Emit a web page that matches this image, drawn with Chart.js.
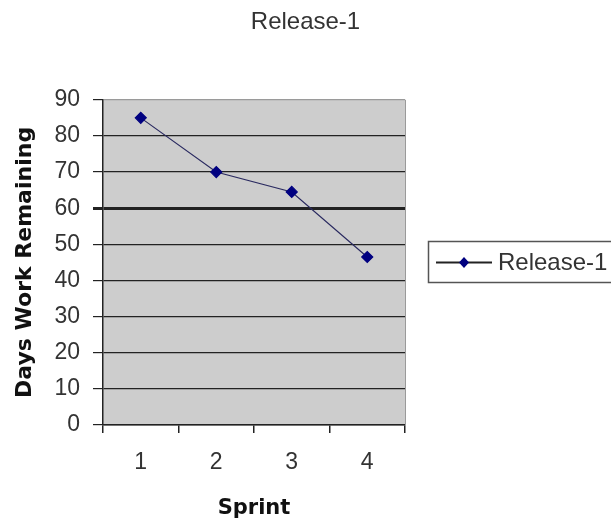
<!DOCTYPE html>
<html>
<head>
<meta charset="utf-8">
<script src="https://cdn.jsdelivr.net/npm/chart.js@4"></script>
<style>
  body { margin: 0; background: #fff; }
  #wrap { width: 611px; height: 523px; }
</style>
</head>
<body>
<div id="wrap"><canvas id="myChart" width="611" height="523"></canvas></div>
<script>
const sprints = ["1", "2", "3", "4"];
const release1 = [85, 70, 64.5, 46.5];
const seriesName = "Release-1";
const yMin = 0;
const yMax = 90;
const yStep = 10;
const targetLine = 60;

// grey plot area, like the old excel default
const plotBackground = {
  id: "plotBackground",
  beforeDraw(chart) {
    const { ctx, chartArea } = chart;
    ctx.save();
    ctx.fillStyle = "#cdcdcd";
    ctx.fillRect(chartArea.left, chartArea.top, chartArea.right - chartArea.left, chartArea.bottom - chartArea.top);
    ctx.restore();
  },
  afterDatasetsDraw(chart) {
    const { ctx, chartArea } = chart;
    ctx.save();
    ctx.strokeStyle = "#9a9a9a";
    ctx.lineWidth = 1;
    ctx.beginPath();
    ctx.moveTo(chartArea.right + 0.5, chartArea.top);
    ctx.lineTo(chartArea.right + 0.5, chartArea.bottom);
    ctx.stroke();
    ctx.restore();
  },
};

// boxed legend on the right, line + marker like excel
const boxLegend = {
  id: "boxLegend",
  afterDraw(chart) {
    const { ctx } = chart;
    const ds = chart.data.datasets[0];
    ctx.save();
    ctx.strokeStyle = "#555";
    ctx.lineWidth = 1.5;
    ctx.strokeRect(428.5, 241.5, 200, 41);
    ctx.strokeStyle = "#222";
    ctx.lineWidth = 2;
    ctx.beginPath();
    ctx.moveTo(436, 262.5);
    ctx.lineTo(492, 262.5);
    ctx.stroke();
    ctx.fillStyle = ds.pointBackgroundColor;
    ctx.beginPath();
    ctx.moveTo(464, 257);
    ctx.lineTo(469, 262.5);
    ctx.lineTo(464, 268);
    ctx.lineTo(459, 262.5);
    ctx.closePath();
    ctx.fill();
    ctx.fillStyle = "#333";
    ctx.font = "24px 'Liberation Sans', Arial, sans-serif";
    ctx.textBaseline = "middle";
    ctx.fillText(ds.label, 498, 263);
    ctx.restore();
  },
};

const ctx = document.getElementById("myChart").getContext("2d");

const myChart = new Chart(ctx, {
  type: "line",
  data: {
    labels: sprints,
    datasets: [
      {
        label: seriesName,
        data: release1,
        borderColor: "#2a2a60",
        borderWidth: 1.2,
        pointStyle: "rectRot",
        pointRadius: 5.5,
        pointBackgroundColor: "#000080",
        pointBorderColor: "#000080",
        tension: 0,
      },
    ],
  },
  options: {
    responsive: false,
    animation: false,
    layout: {
      padding: { left: 0, right: 0, top: 8, bottom: 0 },
    },
    plugins: {
      legend: { display: false },
      tooltip: { enabled: false },
      title: {
        display: true,
        text: seriesName,
        color: "#333",
        font: { family: "'Liberation Sans', Arial, sans-serif", size: 24, weight: "normal" },
        padding: { top: 0, bottom: 63 },
      },
    },
    scales: {
      x: {
        offset: true,
        afterFit: function (scale) {
          scale.height = 98;
        },
        grid: {
          offset: true,
          drawOnChartArea: false,
          tickLength: 8,
          color: "#222",
          lineWidth: 1.5,
        },
        border: { color: "#222", width: 1.5 },
        ticks: {
          color: "#333",
          padding: 16,
          font: { family: "'Liberation Sans', Arial, sans-serif", size: 23 },
        },
        title: {
          display: true,
          text: "Sprint",
          color: "#111",
          font: { family: "'DejaVu Sans', sans-serif", size: 21, weight: "bold" },
          padding: { top: 0, bottom: 2 },
        },
      },
      y: {
        min: yMin,
        max: yMax,
        afterFit: function (scale) {
          scale.width = 103;
        },
        grid: {
          color: function (c) {
            return c.tick && c.tick.value === yMax ? "#9a9a9a" : "#222";
          },
          lineWidth: function (c) {
            return c.tick && c.tick.value === targetLine ? 3 : 1.2;
          },
          tickColor: "#222",
          tickLength: 10,
        },
        border: { color: "#222", width: 1.5 },
        ticks: {
          stepSize: yStep,
          color: "#333",
          padding: 13,
          font: { family: "'Liberation Sans', Arial, sans-serif", size: 23 },
        },
        title: {
          display: true,
          text: "Days Work Remaining",
          color: "#111",
          font: { family: "'DejaVu Sans', sans-serif", size: 22, weight: "bold" },
          padding: { top: 12, bottom: 0 },
        },
      },
      // empty right-hand axis that only reserves room for the legend box
      legendSpace: {
        position: "right",
        min: yMin,
        max: yMax,
        afterFit: function (scale) {
          scale.width = 206;
        },
        grid: { display: false },
        border: { display: false },
        ticks: { display: false },
      },
    },
  },
  plugins: [plotBackground, boxLegend],
});
</script>
</body>
</html>
